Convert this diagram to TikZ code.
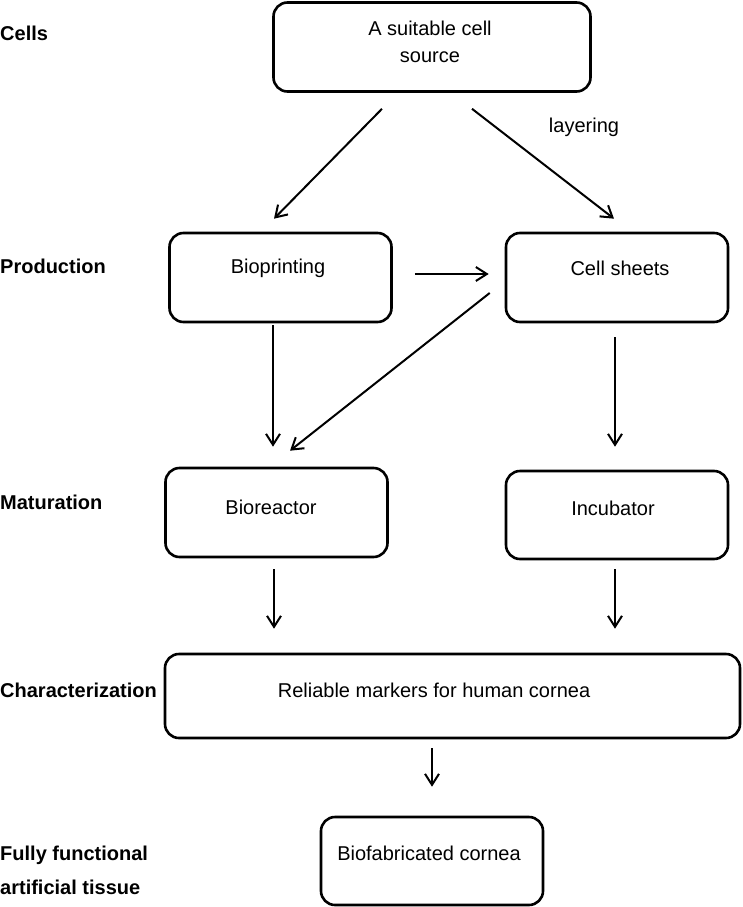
\documentclass[tikz,border=0pt]{standalone}
\usepackage{fontspec}
\setmainfont{Liberation Sans}
\usetikzlibrary{arrows.meta,positioning,calc}

\begin{document}
\begin{tikzpicture}[
		x=1pt, y=-1pt,
		stage/.style={draw, line width=2.6pt, rounded corners=14pt,
			minimum width=222pt, minimum height=89pt, inner sep=0pt},
		txt/.style={font=\fontsize{20}{27}\selectfont, align=center},
		lbl/.style={font=\fontsize{20}{34}\selectfont\bfseries, anchor=west,
			align=left, inner sep=0pt},
		arr/.style={line width=2pt,
			-{Straight Barb[length=11pt,width=14pt,line width=2pt]}},
	]
	\useasboundingbox (0,0) rectangle (742,907);

	% boxes
	\node[stage, minimum width=317pt] (src) at (432,47) {};
	\node[stage] (bioprint) at (280.5,277.5) {};
	\node[stage] (sheets) at (617,277.5) {};
	\node[stage] (bioreactor) at (276.5,512.5) {};
	\node[stage, minimum height=88pt] (incubator) at (617,515) {};
	\node[stage, minimum width=575pt, minimum height=84pt] (charact) at (452.5,696) {};
	\node[stage, minimum height=88pt] (biofab) at (432,861) {};

	% texts in the boxes
	\node[txt] (srctxt) at (430,42) {A suitable cell\\source};
	\node[txt] (bioprinttxt) at (278,268) {Bioprinting};
	\node[txt] (sheetstxt) at (620,268) {Cell sheets};
	\node[txt] (bioreactortxt) at (271,507) {Bioreactor};
	\node[txt] (incubatortxt) at (613,508) {Incubator};
	\node[txt] (characttxt) at (434,690) {Reliable markers for human cornea};
	\node[txt] (biofabtxt) at (429,853) {Biofabricated cornea};

	% stages on the left
	\node[lbl] (cells) at (0,33) {Cells};
	\node[lbl] (production) at (0,266) {Production};
	\node[lbl] (maturation) at (0,502) {Maturation};
	\node[lbl] (characterization) at (0,690) {Characterization};
	\node[lbl] (tissue) at (0,870) {Fully functional\\artificial tissue};

	% arrows
	\draw[arr] ([xshift=-50pt,yshift=-16pt]src.south) -- ([xshift=-6.5pt,yshift=13pt]bioprint.north);
	\draw[arr] ([xshift=40pt,yshift=-16pt]src.south) -- ([xshift=-3pt,yshift=13pt]sheets.north);
	\node[txt] (layering) at (584,127) {layering};
	\draw[arr] ([xshift=22pt,yshift=3.5pt]bioprint.east) -- ([xshift=-16pt,yshift=3.5pt]sheets.west);
	\draw[arr] ([xshift=-15pt,yshift=-15.5pt]sheets.west) -- ([xshift=13.5pt,yshift=16pt]bioreactor.north);
	\draw[arr] ([xshift=-7.5pt,yshift=-2pt]bioprint.south) -- ([xshift=-3.5pt,yshift=20pt]bioreactor.north);
	\draw[arr] ([xshift=-2pt,yshift=-14pt]sheets.south) -- ([xshift=-2pt,yshift=23pt]incubator.north);
	\draw[arr] ([xshift=-2.5pt,yshift=-11pt]bioreactor.south) -- ([xshift=-2.5pt,yshift=24pt]bioreactor.south |- charact.north);
	\draw[arr] ([xshift=-2pt,yshift=-9pt]incubator.south) -- ([xshift=-2pt,yshift=24pt]incubator.south |- charact.north);
	\draw[arr] ([yshift=-9pt]biofab.north |- charact.south) -- ([yshift=29pt]biofab.north);

\end{tikzpicture}
\end{document}
